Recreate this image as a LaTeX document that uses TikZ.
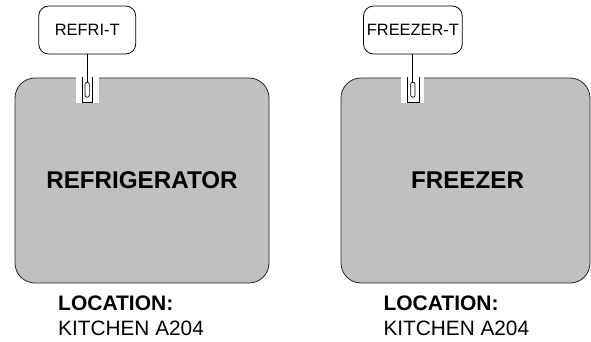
\documentclass[tikz,border=0pt]{standalone}
\usepackage{fontspec}
\setmainfont{Liberation Sans}
\definecolor{silverfill}{HTML}{C0C0C0}
\begin{document}
\begin{tikzpicture}[x=1pt,y=-1pt,
  cabinet/.style={draw=black!85, fill=silverfill, line width=0.8pt, rounded corners=20pt,
    inner sep=0pt, minimum height=205pt, font=\bfseries\fontsize{24.2}{29}\selectfont},
  tag/.style={draw=black, fill=white, line width=0.8pt, rounded corners=10pt,
    inner sep=0pt, minimum width=97pt, minimum height=48pt, font=\fontsize{16.4}{19}\selectfont},
  probe/.style={draw=black, fill=white, line width=0.7pt, rounded corners=2pt,
    inner sep=0pt, minimum width=4.3pt, minimum height=15pt},
  slot/.style={fill=white},
  ushape/.style={draw=black, line width=0.7pt},
  lead/.style={draw=black, line width=0.9pt},
  loctitle/.style={anchor=base west, inner sep=0pt, font=\bfseries\fontsize{21}{24}\selectfont},
  locname/.style={anchor=base west, inner sep=0pt, font=\fontsize{20.8}{24}\selectfont}]
\useasboundingbox (0,0) rectangle (591,342);

% cabinets
\node[cabinet, minimum width=254pt] (fridge) at (142,180.5) {REFRIGERATOR};
\node[cabinet, minimum width=249pt] (freezer) at (465.5,180.5) {\hspace*{4pt}FREEZER};

% slots and probes, refrigerator
\fill[slot] (75.7,76.5) rectangle (99.3,102.7);
\draw[ushape] (82,77.5) -- (82,102.3) -- (92.3,102.3) -- (92.3,77.5);
\node[probe] (p1) at (87.2,89.7) {};

% slots and probes, freezer
\fill[slot] (400.7,76.5) rectangle (424.3,102.7);
\draw[ushape] (407.3,77.5) -- (407.3,102.3) -- (419.3,102.3) -- (419.3,77.5);
\node[probe] (p2) at (412.9,89.7) {};

% sensor tags
\node[tag] (t1) at (87.2,30) {REFRI-T};
\node[tag, minimum width=98.7pt] (t2) at (412.9,30) {FREEZER-T};
\draw[lead] (t1.south) -- (p1.north);
\draw[lead] (t2.south) -- (p2.north);

% locations
\node[loctitle] (l1) at (58,310) {LOCATION:};
\node[locname] (k1) at (58,335) {KITCHEN A204};
\node[loctitle] (l2) at (383.3,310) {LOCATION:};
\node[locname] (k2) at (383.3,335) {KITCHEN A204};
\end{tikzpicture}
\end{document}
